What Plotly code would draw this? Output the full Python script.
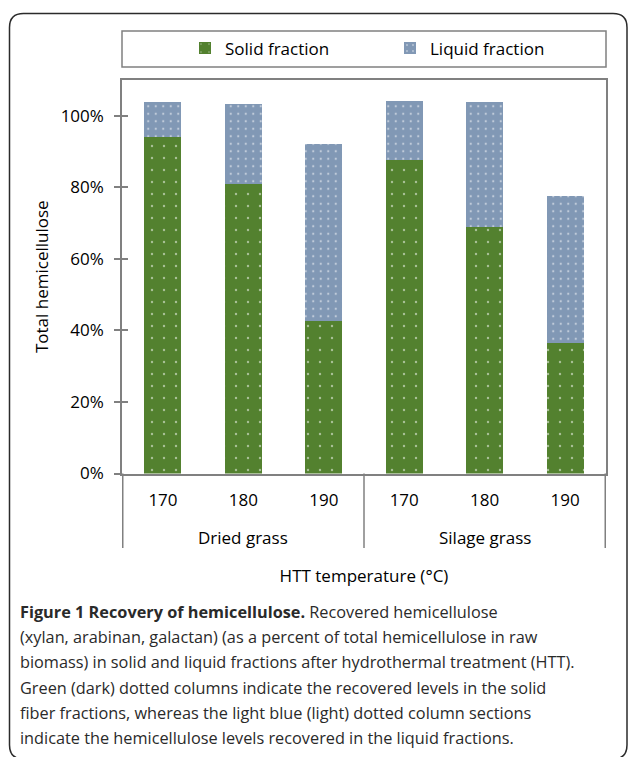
import plotly.graph_objects as go

W, H = 629, 757

groups = ["Dried grass"] * 3 + ["Silage grass"] * 3
temps = ["170", "180", "190", "170", "180", "190"]
solid = [0.940, 0.808, 0.427, 0.875, 0.688, 0.365]
liquid = [0.099, 0.226, 0.493, 0.167, 0.350, 0.412]
group_names = ["Dried grass", "Silage grass"]

green = "#53812f"
blue = "#8198b5"

caption = [
    "<b>Figure 1 Recovery of hemicellulose.</b> Recovered hemicellulose",
    "(xylan, arabinan, galactan) (as a percent of total hemicellulose in raw",
    "biomass) in solid and liquid fractions after hydrothermal treatment (HTT).",
    "Green (dark) dotted columns indicate the recovered levels in the solid",
    "fiber fractions, whereas the light blue (light) dotted column sections",
    "indicate the hemicellulose levels recovered in the liquid fractions.",
]


def px(x):
    return x / W


def py(y):
    return 1 - y / H


cats = [f"{g} {t}" for g, t in zip(groups, temps)]

fig = go.Figure()
fig.add_bar(
    x=cats, y=solid, name="Solid fraction",
    marker=dict(color=green, line_width=0,
                pattern=dict(shape=".", fgcolor="white", size=12, solidity=0.03)),
)
fig.add_bar(
    x=cats, y=liquid, name="Liquid fraction",
    marker=dict(color=blue, line_width=0,
                pattern=dict(shape=".", fgcolor="white", size=7.5, solidity=0.07)),
)

# rounded outer frame (bottom edge runs off the page, as in the scan)
l, r, t, b, k = 9.5, 627, 13.5, 759, 14
path = (
    f"M {px(l)},{py(b - k)} L {px(l)},{py(t + k)} Q {px(l)},{py(t)} {px(l + k)},{py(t)} "
    f"L {px(r - k)},{py(t)} Q {px(r)},{py(t)} {px(r)},{py(t + k)} L {px(r)},{py(b - k)} "
    f"Q {px(r)},{py(b)} {px(r - k)},{py(b)} L {px(l + k)},{py(b)} Q {px(l)},{py(b)} {px(l)},{py(b - k)} Z"
)
fig.add_shape(type="path", path=path, xref="paper", yref="paper",
              line=dict(color="#2b2b2b", width=1.5))
# legend box
fig.add_shape(type="rect", xref="paper", yref="paper",
              x0=px(122), x1=px(606), y0=py(67), y1=py(31),
              line=dict(color="#808080", width=1.5))

# group dividers and group labels under the temperature ticks
n = len(temps) // len(group_names)
for j in range(len(group_names) + 1):
    fig.add_shape(type="line", xref="x", yref="paper",
                  x0=j * n - 0.5, x1=j * n - 0.5, y0=py(473.5), y1=py(548),
                  line=dict(color="#808080", width=1.5))
for j, g in enumerate(group_names):
    fig.add_annotation(text=g, xref="x", yref="paper", x=cats[j * n + n // 2], y=py(537),
                       yanchor="middle", showarrow=False,
                       font=dict(family="Open Sans", size=17, color="#000"))

for i, line in enumerate(caption):
    fig.add_annotation(
        text=line, xref="paper", yref="paper", x=px(18), y=py(612 + 25.2 * i),
        xanchor="left", yanchor="middle", showarrow=False,
        font=dict(family="Open Sans", size=16.3, color="#2a2a2a"),
    )

fig.update_layout(
    width=W, height=H,
    margin=dict(l=0, r=0, t=0, b=0, autoexpand=False),
    paper_bgcolor="white", plot_bgcolor="white",
    barmode="stack", bargap=0.54,
    font=dict(family="Open Sans", size=17, color="#000"),
    showlegend=True,
    legend=dict(orientation="h", x=px(185), y=py(48.5), xanchor="left", yanchor="middle",
                entrywidth=160, bgcolor="rgba(0,0,0,0)", font=dict(size=17),
                traceorder="normal"),
    xaxis=dict(
        domain=[px(122), px(606)], showline=True, mirror=True, automargin=False,
        linecolor="#808080", linewidth=1.5, showgrid=False, ticks="",
        tickvals=cats, ticktext=temps, ticklabelstandoff=10,
        tickfont=dict(size=17),
        title=dict(text="HTT temperature (°C)", font=dict(size=17), standoff=60),
    ),
    yaxis=dict(
        domain=[py(473.5), py(80)], range=[0, 1.1], tickvals=[0, 0.2, 0.4, 0.6, 0.8, 1.0],
        tickformat=".0%", showline=True, mirror=True, linecolor="#808080", linewidth=1.5,
        showgrid=False, ticks="outside", ticklen=6, tickcolor="#808080", tickwidth=1.5,
        ticklabelstandoff=7, tickfont=dict(size=17), zeroline=False, automargin=False,
        title=dict(text="Total hemicellulose", font=dict(size=17), standoff=8),
    ),
    yaxis2=dict(
        overlaying="y", matches="y", domain=[py(473.5), py(80)], side="left",
        anchor="x", tickvals=[0, 0.2, 0.4, 0.6, 0.8, 1.0], ticks="inside", ticklen=6,
        tickcolor="#808080", tickwidth=1.5, showticklabels=False, showgrid=False,
        showline=False, zeroline=False, automargin=False,
    ),
)
# invisible trace to activate the overlay axis with inner ticks
fig.add_scatter(x=cats[:1], y=[0], yaxis="y2", mode="markers",
                marker=dict(opacity=0), showlegend=False, hoverinfo="skip")

fig.write_html("out.html", config={"displayModeBar": False},
               post_script="document.body.style.margin='0';")
